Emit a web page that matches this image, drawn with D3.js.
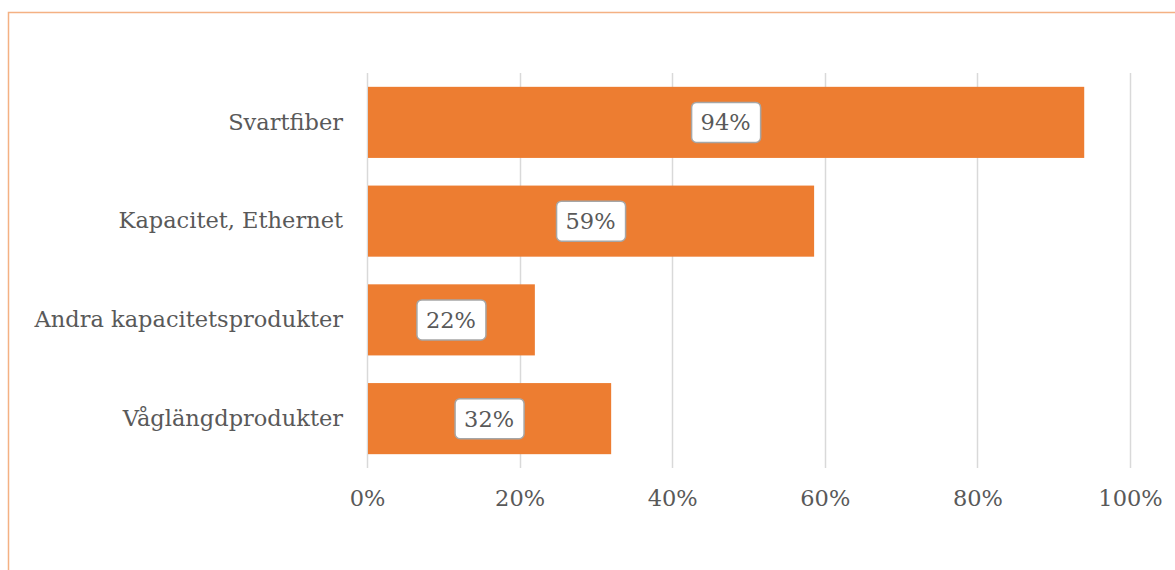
<!DOCTYPE html>
<html>
<head>
<meta charset="utf-8">
<script src="https://cdn.jsdelivr.net/npm/d3@7"></script>
<style>
  body { margin: 0; background: #fff; }
  svg { display: block; }
</style>
</head>
<body>
<div id="chart"></div>
<script>
// data
const categories = ["Svartfiber", "Kapacitet, Ethernet", "Andra kapacitetsprodukter", "Våglängdprodukter"];
const values = [0.94, 0.586, 0.22, 0.32];
const labels = ["94%", "59%", "22%", "32%"];
const ticks = [0, 0.2, 0.4, 0.6, 0.8, 1];

const width = 1175;
const height = 570;
const margin = { top: 73, right: 45, bottom: 102, left: 367 };
const font = "'DejaVu Serif', 'Liberation Serif', serif";
const textColor = "#595959";
const fontSize = "22.5px";

const svg = d3.select("#chart")
  .append("svg")
  .attr("width", width)
  .attr("height", height)
  .style("font-family", font);

// outer frame
svg.append("rect")
  .attr("x", 8.5)
  .attr("y", 12.5)
  .attr("width", width + 20)
  .attr("height", height + 20)
  .attr("fill", "none")
  .attr("stroke", "#F4B183")
  .attr("stroke-width", 1.5);

const x = d3.scaleLinear()
  .domain([0, 1])
  .range([margin.left, width - margin.right]);

const y = d3.scaleBand()
  .domain(categories)
  .range([margin.top, height - margin.bottom])
  .paddingInner(0.28)
  .paddingOuter(0.14);

// gridlines
svg.append("g")
  .selectAll("line")
  .data(ticks)
  .join("line")
    .attr("x1", d => Math.round(x(d)) + 0.5)
    .attr("x2", d => Math.round(x(d)) + 0.5)
    .attr("y1", margin.top)
    .attr("y2", height - margin.bottom)
    .attr("stroke", "#d9d9d9")
    .attr("stroke-width", 1.5);

// bars
svg.append("g")
  .selectAll("rect")
  .data(categories)
  .join("rect")
    .attr("x", x(0) + 1)
    .attr("y", d => y(d))
    .attr("width", (d, i) => x(values[i]) - x(0) - 1)
    .attr("height", y.bandwidth())
    .attr("fill", "#ED7D31");

// x axis labels
svg.append("g")
  .attr("transform", `translate(0, ${height - margin.bottom})`)
  .call(d3.axisBottom(x).tickValues(ticks).tickFormat(d3.format(".0%")).tickSize(0).tickPadding(22))
  .call(g => g.select(".domain").remove())
  .call(g => g.selectAll("text")
    .attr("fill", textColor)
    .style("font-family", font)
    .style("font-size", fontSize));

// y axis labels
svg.append("g")
  .attr("transform", `translate(${margin.left}, 0)`)
  .call(d3.axisLeft(y).tickSize(0).tickPadding(24))
  .call(g => g.select(".domain").remove())
  .call(g => g.selectAll("text")
    .attr("fill", textColor)
    .style("font-family", font)
    .style("font-size", fontSize));

// data labels
const lab = svg.append("g")
  .selectAll("g")
  .data(categories)
  .join("g")
    .attr("transform", (d, i) => `translate(${(x(0) + x(values[i])) / 2}, ${y(d) + y.bandwidth() / 2})`);

lab.append("rect")
  .attr("x", -34)
  .attr("y", -20)
  .attr("width", 69)
  .attr("height", 40)
  .attr("rx", 5)
  .attr("fill", "#fff")
  .attr("stroke", "#a6a6a6")
  .attr("stroke-width", 1.5);

lab.append("text")
  .attr("text-anchor", "middle")
  .attr("dy", "0.35em")
  .attr("fill", textColor)
  .style("font-size", fontSize)
  .text((d, i) => labels[i]);
</script>
</body>
</html>
